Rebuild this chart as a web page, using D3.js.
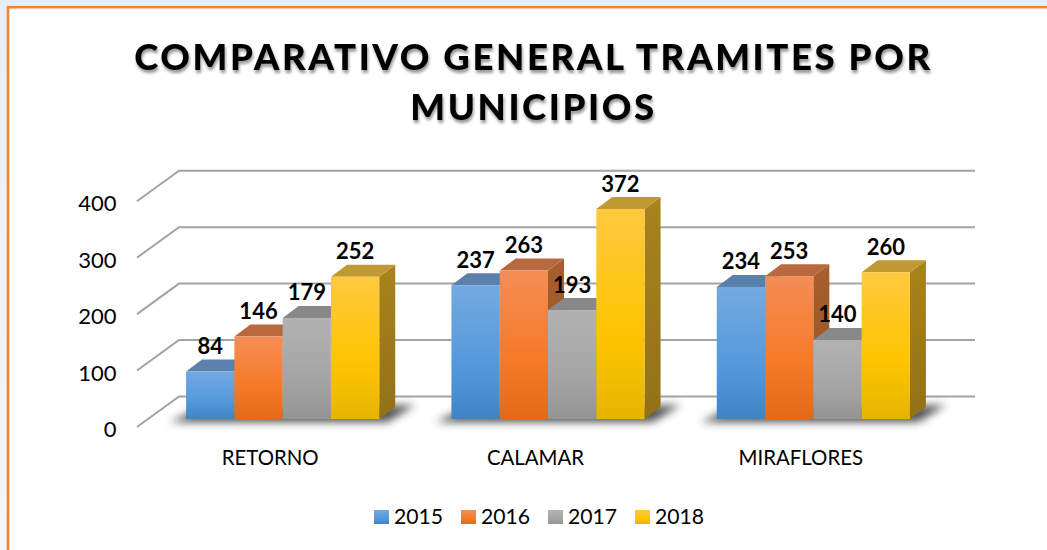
<!DOCTYPE html>
<html><head><meta charset="utf-8">
<script src="https://cdnjs.cloudflare.com/ajax/libs/d3/7.8.5/d3.min.js"></script>
<style>html,body{margin:0;padding:0;background:#fff}svg{display:block}text{font-family:Lato,"Open Sans",sans-serif}</style>
</head><body><div id="c"></div>
<script>
const categories = ["RETORNO","CALAMAR","MIRAFLORES"];
const years = ["2015","2016","2017","2018"];
const v2015 = [84,237,234];
const v2016 = [146,263,253];
const v2017 = [179,193,140];
const v2018 = [252,372,260];
const seriesValues = [v2015,v2016,v2017,v2018];
const yTicks = [0,100,200,300,400];
const titleLines = ["COMPARATIVO GENERAL TRAMITES POR","MUNICIPIOS"];
const palette = [
 {top:"#5a80ab",side:"#3d6a9c",a:"#74a9e0",b:"#5499dc",c:"#3f84c5"},
 {top:"#b8693f",side:"#a05a2c",a:"#f58d55",b:"#f67a28",c:"#e26a17"},
 {top:"#888888",side:"#6e6e6e",a:"#b2b2b2",b:"#a5a5a5",c:"#949494"},
 {top:"#bf9932",side:"#a07c1a",a:"#ffc93f",b:"#ffc400",c:"#e6b500"}
];
const W=1047,H=550;
const depthX=16, depthY=12, backX=42, backY=30.5;
const svg=d3.select("#c").append("svg").attr("width",W).attr("height",H);
const defs=svg.append("defs");
const bg=defs.append("linearGradient").attr("id","bg").attr("x1",0).attr("x2",0).attr("y1",0).attr("y2",1);
bg.append("stop").attr("offset",0).attr("stop-color","#e6eff8");
bg.append("stop").attr("offset",1).attr("stop-color","#f3f7fb");
palette.forEach((p,i)=>{
 const g=defs.append("linearGradient").attr("id","g"+i).attr("x1",0).attr("x2",0).attr("y1",0).attr("y2",1);
 g.append("stop").attr("offset",0).attr("stop-color",p.a);
 g.append("stop").attr("offset",.6).attr("stop-color",p.b);
 g.append("stop").attr("offset",1).attr("stop-color",p.c);
 const s=defs.append("linearGradient").attr("id","s"+i).attr("x1",0).attr("x2",0).attr("y1",0).attr("y2",1);
 s.append("stop").attr("offset",0).attr("stop-color",d3.color(p.side).brighter(.15));
 s.append("stop").attr("offset",1).attr("stop-color",d3.color(p.side).darker(.25));
});
defs.append("filter").attr("id","blur").attr("x","-10%").attr("y","-60%").attr("width","120%").attr("height","220%")
 .append("feGaussianBlur").attr("stdDeviation",4);
const ts=defs.append("filter").attr("id","ts").attr("x","-5%").attr("y","-20%").attr("width","110%").attr("height","150%");
ts.append("feDropShadow").attr("dx",1).attr("dy",3).attr("stdDeviation",1.8).attr("flood-color","#000").attr("flood-opacity",.42);

// page + frame
svg.append("rect").attr("width",W).attr("height",H).attr("fill","url(#bg)");
svg.append("rect").attr("x",8).attr("y",7.2).attr("width",W+20).attr("height",H+20)
 .attr("fill","#fff").attr("stroke","#f58231").attr("stroke-width",2.6);

// title
svg.append("g").attr("filter","url(#ts)").selectAll("text").data(titleLines).join("text")
 .attr("x",533.5).attr("y",(d,i)=>69.5+i*50.5).attr("text-anchor","middle")
 .attr("font-size",36.6).attr("font-weight",900).attr("letter-spacing",2.6).attr("fill","#000").text(d=>d);

// scales
const y=d3.scaleLinear().domain([0,400]).range([419,193.2]);
const x0=d3.scaleBand().domain(categories).range([150,946]).paddingInner(0.272).paddingOuter(0.136);
const x1=d3.scaleBand().domain(years).range([0,x0.bandwidth()]);

// gridlines (side + back wall)
const grid=svg.append("g");
grid.selectAll("path").data(yTicks).join("path")
 .attr("fill","none").attr("stroke","#a3a3a3").attr("stroke-width",2)
 .attr("d",d=>{const Y=y(d)+8;return `M137,${Y}L${137+backX},${Y-backY}H975`;});

// y axis labels
const yAxis=d3.axisLeft(y).tickValues(yTicks).tickSize(0).tickPadding(0);
const ya=svg.append("g").attr("transform","translate(116.5,10)").call(yAxis);
ya.select(".domain").remove();
ya.selectAll("text").attr("font-size",22).attr("fill","#000").attr("dy","0.35em");

// floor shadows
svg.append("g").selectAll("path").data(categories).join("path")
 .attr("filter","url(#blur)").attr("fill","#333").attr("opacity",.85)
 .attr("d",c=>{const a=x0(c),b=a+x0.bandwidth();return `M${a-16},${y(0)+3}L${a+8},${y(0)-8}L${b+36},${y(0)-14}L${b+8},${y(0)+3}Z`;});

// bars
const groups=svg.append("g").selectAll("g").data(categories).join("g")
 .attr("transform",c=>`translate(${x0(c)},0)`);
groups.each(function(c,ci){
 const g=d3.select(this);
 years.forEach((yr,si)=>{
  const val=seriesValues[si][ci], X=x1(yr), w=x1.bandwidth(), T=y(val), B=y(0);
  g.append("path").attr("fill","url(#s"+si+")").attr("d",`M${X+w},${T}l${depthX},${-depthY}V${B-depthY}l${-depthX},${depthY}Z`);
  g.append("path").attr("fill",palette[si].top).attr("d",`M${X},${T}l${depthX},${-depthY}h${w}l${-depthX},${depthY}Z`);
 });
 years.forEach((yr,si)=>{
  const val=seriesValues[si][ci], X=x1(yr), w=x1.bandwidth(), T=y(val), B=y(0);
  g.append("rect").attr("x",X).attr("y",T).attr("width",w).attr("height",B-T).attr("fill","url(#g"+si+")");
 });
 years.forEach((yr,si)=>{
  const val=seriesValues[si][ci];
  g.append("text").attr("x",x1(yr)+x1.bandwidth()/2).attr("y",y(val)-17.5).attr("text-anchor","middle")
   .attr("font-size",22).attr("font-weight",700).attr("fill","#000").text(val);
 });
});

// category labels
svg.append("g").selectAll("text").data(categories).join("text")
 .attr("x",c=>x0(c)+x0.bandwidth()/2-12.5).attr("y",465).attr("text-anchor","middle")
 .attr("font-size",20.4).attr("fill","#000").text(c=>c);

// legend
const lx=d3.scalePoint().domain(years).range([374,635]);
const lg=svg.append("g").selectAll("g").data(years).join("g").attr("transform",d=>`translate(${lx(d)},0)`);
lg.append("rect").attr("y",510).attr("width",15).attr("height",14).attr("fill",(d,i)=>`url(#g${i})`);
lg.append("text").attr("x",20).attr("y",524).attr("font-size",21.2).attr("fill","#000").text(d=>d);
</script></body></html>
